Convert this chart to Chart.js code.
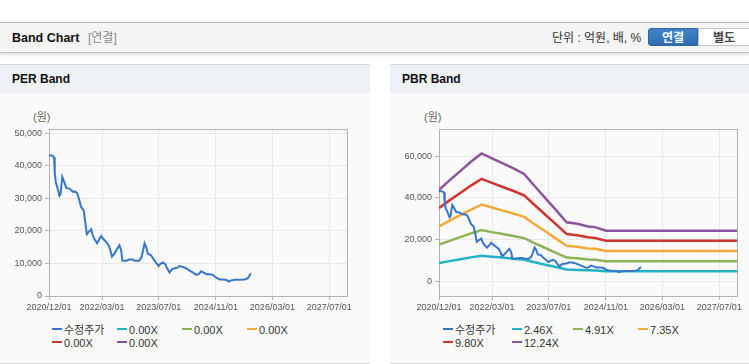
<!DOCTYPE html>
<html lang="ko">
<head>
<meta charset="utf-8">
<title>Band Chart</title>
<script src="https://cdn.jsdelivr.net/npm/chart.js@4.4.1/dist/chart.umd.min.js"></script>
<style>
  body { margin: 0; width: 749px; height: 364px; overflow: hidden; background: #fff; position: relative;
         font-family: "Liberation Sans", "Noto Sans CJK KR", sans-serif; color: #333; }
  .top { position: absolute; left: 0; top: 22px; width: 749px; height: 29px; background: #f4f4f4;
         border-top: 1px solid #b8b8b8; border-bottom: 1px solid #c6c6c6; box-shadow: 0 2px 3px rgba(0,0,0,.13); }
  .top .ttl { position: absolute; left: 12px; top: 8px; font-size: 12.5px; line-height: 14px; font-weight: bold; color: #111; }
  .top .sub { position: absolute; left: 88px; top: 8px; font-size: 12px; line-height: 14px; color: #8a8a8a; }
  .top .unit { position: absolute; left: 552px; top: 8px; font-size: 12px; line-height: 14px; color: #333; }
  .btn { position: absolute; top: 5px; height: 18px; width: 50px; text-align: center; font-size: 12px; line-height: 18px;
         font-weight: bold; box-sizing: border-box; }
  .btn.on { left: 648px; background: linear-gradient(#4184c9, #2f6db1); color: #fff; border: 1px solid #2c64a3; border-radius: 3px 0 0 3px; }
  .btn.off { left: 698px; width: 52px; background: #fff; color: #444; border: 1px solid #c4c4c4; }
  .panel { position: absolute; top: 64px; height: 298px; background: #fafafa; border-top: 1px solid #d6d6d6; border-bottom: 1px solid #dcdcdc; }
  .panel .hd { height: 28px; background: #eef2f7; font-size: 12px; font-weight: bold; color: #111; line-height: 28px; padding-left: 12px; }
  .panel canvas { position: absolute; left: 0; top: 29px; }
  .panel .yunit { position: absolute; top: 46px; font-size: 11px; line-height: 13px; color: #666; }
  .legend { position: absolute; top: 259px; display: grid; font-size: 11px; line-height: 13px; color: #333; }
  .legend span.item { white-space: nowrap; }
  .legend i { display: inline-block; width: 10px; height: 2px; margin-right: 2px; vertical-align: 4px; }
</style>
</head>
<body>
<div class="top">
  <span class="ttl">Band Chart</span>
  <span class="sub">[연결]</span>
  <span class="unit">단위 : 억원, 배, %</span>
  <span class="btn on">연결</span>
  <span class="btn off">별도</span>
</div>

<div class="panel" style="left:0; width:370px;">
  <div class="hd">PER Band</div>
  <span class="yunit" style="left:33px;">(원)</span>
  <canvas id="perChart" width="370" height="224"></canvas>
  <div class="legend" id="perLegend" style="left:52px; grid-template-columns: 65px 65px 65px 65px;"></div>
</div>

<div class="panel" style="left:390px; width:359px;">
  <div class="hd">PBR Band</div>
  <span class="yunit" style="left:34px;">(원)</span>
  <canvas id="pbrChart" width="359" height="224"></canvas>
  <div class="legend" id="pbrLegend" style="left:53px; grid-template-columns: 69px 61px 65px 65px;"></div>
</div>

<script>
// x axis
const xStart = "2020/12/01";
const xEnd = "2027/12/01";
const xTickLabels = ["2020/12/01", "2022/03/01", "2023/07/01", "2024/11/01", "2026/03/01", "2027/07/01"];

// 수정주가
const priceDates = [
    "2020/12/01", "2021/01/04", "2021/01/13", "2021/01/19", "2021/01/28", "2021/02/15", "2021/03/01", "2021/03/10",
    "2021/03/25", "2021/04/07", "2021/04/28", "2021/05/25", "2021/06/25", "2021/07/15", "2021/08/01", "2021/08/19",
    "2021/09/01", "2021/09/25", "2021/10/07", "2021/10/21", "2021/11/07", "2021/11/28", "2021/12/10", "2021/12/25",
    "2022/01/18", "2022/02/07", "2022/02/22", "2022/03/13", "2022/04/04", "2022/04/25", "2022/05/13", "2022/05/25",
    "2022/06/16", "2022/07/07", "2022/07/28", "2022/08/13", "2022/08/22", "2022/09/25", "2022/10/16", "2022/11/19",
    "2022/12/07", "2023/01/13", "2023/02/01", "2023/02/15", "2023/03/01", "2023/03/16", "2023/03/28", "2023/04/25",
    "2023/05/16", "2023/06/07", "2023/06/28", "2023/07/13", "2023/08/04", "2023/08/25", "2023/09/10", "2023/10/01",
    "2023/10/22", "2023/11/13", "2023/12/07", "2023/12/25", "2024/01/25", "2024/02/21", "2024/03/19", "2024/04/19",
    "2024/05/16", "2024/06/07", "2024/06/28", "2024/07/19", "2024/08/13", "2024/09/10", "2024/10/07", "2024/11/04",
    "2024/12/04", "2025/01/01", "2025/02/01", "2025/02/22", "2025/03/13", "2025/04/10", "2025/05/22", "2025/07/04",
    "2025/08/01", "2025/08/16", "2025/08/28"
];
const priceValues = [
    43300, 43000, 42600, 38000, 34900, 32800, 30800, 31300,
    36600, 35400, 33200, 33000, 32000, 32100, 31500, 29300,
    27500, 26200, 23100, 19000, 19700, 20500, 18800, 17500,
    16200, 17500, 18400, 17500, 16600, 15700, 13900, 12100,
    13000, 14400, 15600, 13900, 10800, 10800, 11200, 11200,
    10800, 10800, 11800, 13900, 16200, 14900, 13000, 12500,
    11300, 10300, 9200, 9800, 10300, 9800, 8500, 7200,
    8200, 8500, 8700, 9200, 8900, 8500, 7900, 7200,
    6500, 6700, 7600, 7200, 6700, 6700, 6500, 5600,
    5100, 5100, 4900, 4400, 4800, 5000, 5000, 5100,
    5400, 6200, 7000
];

// PBR band lines
const bandDates = [
    "2020/12/01", "2021/03/01", "2021/06/01", "2021/09/01", "2021/12/01", "2022/03/01", "2022/06/01", "2022/09/01",
    "2022/12/01", "2023/03/01", "2023/06/01", "2023/09/01", "2023/12/01", "2024/03/01", "2024/06/01", "2024/08/01",
    "2024/11/01", "2027/12/01"
];
const band246 = [8800, 9700, 10600, 11500, 12300, 11800, 11400, 10900, 10400, 9200, 8000, 6900, 5700, 5500, 5300, 5200, 4900, 4900];
const band491 = [17600, 19400, 21200, 23000, 24600, 23600, 22700, 21700, 20700, 18300, 16000, 13700, 11400, 11100, 10500, 10400, 9700, 9700];
const band735 = [26300, 29100, 31700, 34400, 36800, 35400, 33900, 32500, 30900, 27400, 24000, 20500, 17000, 16600, 15800, 15600, 14600, 14600];
const band980 = [35100, 38800, 42300, 45900, 49100, 47200, 45200, 43300, 41200, 36600, 31900, 27300, 22700, 22100, 21100, 20800, 19500, 19500];
const band1224 = [43800, 48400, 52800, 57300, 61300, 58900, 56500, 54100, 51500, 45700, 39900, 34100, 28300, 27600, 26300, 26000, 24300, 24300];

const perBandLabels = ["0.00X", "0.00X", "0.00X", "0.00X", "0.00X"];
const pbrBandLabels = ["2.46X", "4.91X", "7.35X", "9.80X", "12.24X"];
const bandColors = ["#22b2c6", "#8db356", "#f4a93b", "#cf3530", "#8d549e"];
const priceColor = "#3775c6";

const perTicks = [0, 10000, 20000, 30000, 40000, 50000];
const pbrTicks = [0, 20000, 40000, 60000];

function toDay(s) {
    const [y, m, d] = s.split("/").map(Number);
    return (Date.UTC(y, m - 1, d) - Date.UTC(2020, 11, 1)) / 864e5;
}

function points(dates, values) {
    return dates.map((d, i) => ({ x: toDay(d), y: values[i] }));
}

const plotBorder = {
    id: "plotBorder",
    beforeDatasetsDraw(chart) {
        const { ctx, chartArea: a } = chart;
        ctx.save();
        ctx.strokeStyle = "#b3b3b3";
        ctx.lineWidth = 1;
        ctx.strokeRect(Math.round(a.left) + 0.5, Math.round(a.top) + 0.5, Math.round(a.right - a.left), Math.round(a.bottom - a.top));
        ctx.restore();
    }
};

function makeChart(id, yMin, yMax, yTicks, padRight, bands) {
    const datasets = [{
        label: "수정주가",
        data: points(priceDates, priceValues),
        borderColor: priceColor,
        borderWidth: 2,
        order: 0
    }];
    bands.forEach((b, i) => {
        datasets.push({
            label: b.label,
            data: b.values ? points(bandDates, b.values) : [],
            borderColor: bandColors[i],
            borderWidth: 2.5,
            order: 1
        });
    });

    return new Chart(document.getElementById(id), {
        type: "line",
        data: { datasets: datasets },
        options: {
            responsive: false,
            animation: false,
            layout: { padding: { top: 35, right: padRight, bottom: 2, left: 0 } },
            elements: { point: { radius: 0 }, line: { tension: 0 } },
            plugins: { legend: { display: false }, tooltip: { enabled: false } },
            scales: {
                x: {
                    type: "linear",
                    min: toDay(xStart),
                    max: toDay(xEnd),
                    afterBuildTicks: axis => { axis.ticks = xTickLabels.map(s => ({ value: toDay(s) })); },
                    afterFit: axis => { axis.height = 20; },
                    ticks: {
                        autoSkip: false,
                        maxRotation: 0,
                        padding: 2,
                        color: "#555",
                        font: { size: 9, family: "Liberation Sans" },
                        callback: (v, i) => xTickLabels[i]
                    },
                    grid: { color: "#e8e8e8", tickColor: "#b3b3b3", tickLength: 4 },
                    border: { color: "#b3b3b3" }
                },
                y: {
                    min: yMin,
                    max: yMax,
                    afterBuildTicks: axis => { axis.ticks = yTicks.map(v => ({ value: v })); },
                    afterFit: axis => { axis.width = 49; },
                    ticks: {
                        padding: 3,
                        color: "#555",
                        font: { size: 9, family: "Liberation Sans" },
                        callback: v => v.toLocaleString("en-US")
                    },
                    grid: { color: "#e8e8e8", tickColor: "#b3b3b3", tickLength: 4 },
                    border: { color: "#b3b3b3" }
                }
            }
        },
        plugins: [plotBorder]
    });
}

function buildLegend(elId, chart) {
    const box = document.getElementById(elId);
    chart.data.datasets.forEach(ds => {
        const item = document.createElement("span");
        item.className = "item";
        const mark = document.createElement("i");
        mark.style.background = ds.borderColor;
        item.appendChild(mark);
        item.appendChild(document.createTextNode(ds.label));
        box.appendChild(item);
    });
}

const perChart = makeChart("perChart", 0, 51300, perTicks, 23,
    perBandLabels.map(l => ({ label: l, values: null })));

const pbrValues = [band246, band491, band735, band980, band1224];
const pbrChart = makeChart("pbrChart", -7000, 73000, pbrTicks, 12,
    pbrBandLabels.map((l, i) => ({ label: l, values: pbrValues[i] })));

buildLegend("perLegend", perChart);
buildLegend("pbrLegend", pbrChart);
</script>
</body>
</html>
